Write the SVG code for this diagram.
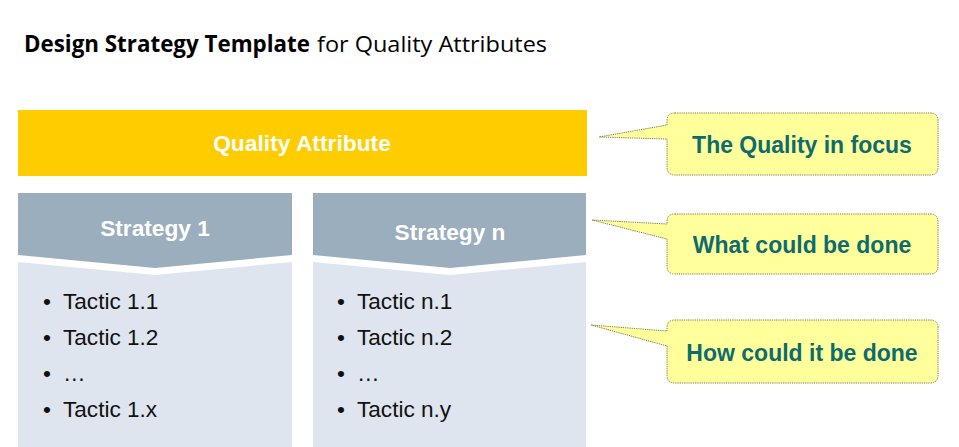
<svg xmlns="http://www.w3.org/2000/svg" width="959" height="447" viewBox="0 0 959 447">
<style>
.title{font-family:"Open Sans","Noto Sans",sans-serif;font-size:22.5px;fill:#000}
.qa{font-family:"Liberation Sans",Arial,sans-serif;font-size:22.8px;font-weight:bold;fill:#fff}
.hd{fill:#9BAEBD}
.bd{fill:#DFE5EE}
.st{font-family:"Liberation Sans",Arial,sans-serif;font-size:22.7px;font-weight:bold;fill:#fff}
.tx{font-family:"Liberation Sans",Arial,sans-serif;font-size:22.6px;fill:#111}
.co{fill:#FFFF9C;stroke:#7A7A4A;stroke-width:1;stroke-dasharray:1.2 1}
.ct{font-family:"Liberation Sans",Arial,sans-serif;font-size:23px;font-weight:bold;fill:#0E6B6E;text-anchor:middle}
</style>
<rect width="959" height="447" fill="#fff"/>
<g id="title">
<text class="title" x="24" y="52" font-weight="bold" textLength="286" lengthAdjust="spacingAndGlyphs">Design Strategy Template</text>
<text class="title" x="317" y="52" textLength="230" lengthAdjust="spacingAndGlyphs">for Quality Attributes</text>
</g>
<g id="quality-attribute">
<rect x="18" y="110" width="569" height="66" fill="#FFCC00"/>
<text class="qa" x="302" y="151" text-anchor="middle">Quality Attribute</text>
</g>
<g id="strategy-1">
<polygon class="hd" points="18,193 292,193 292,255 155,268 18,255"/>
<text class="st" x="155" y="236" text-anchor="middle">Strategy 1</text>
<polygon class="bd" points="18,262 155,275 292,262 292,447 18,447"/>
<text class="tx" x="43" y="309">•</text><text class="tx" x="63" y="309">Tactic 1.1</text>
<text class="tx" x="43" y="345">•</text><text class="tx" x="63" y="345">Tactic 1.2</text>
<text class="tx" x="43" y="381">•</text><text class="tx" x="63" y="381">…</text>
<text class="tx" x="43" y="417">•</text><text class="tx" x="63" y="417">Tactic 1.x</text>
</g>
<g id="strategy-n">
<polygon class="hd" points="313,193 586,193 586,255 450,268 313,255"/>
<text class="st" x="450" y="240" text-anchor="middle">Strategy n</text>
<polygon class="bd" points="313,262 450,275 586,262 586,447 313,447"/>
<text class="tx" x="337" y="309">•</text><text class="tx" x="357" y="309">Tactic n.1</text>
<text class="tx" x="337" y="345">•</text><text class="tx" x="357" y="345">Tactic n.2</text>
<text class="tx" x="337" y="381">•</text><text class="tx" x="357" y="381">…</text>
<text class="tx" x="337" y="417">•</text><text class="tx" x="357" y="417">Tactic n.y</text>
</g>
<g id="connectors">
<g id="callout-1">
<path class="co" d="M675,113 H930 Q938,113 938,121 V167 Q938,175 930,175 H675 Q667,175 667,167 V139 L599,137 L667,125 V121 Q667,113 675,113 Z"/>
<text class="ct" x="802" y="153">The Quality in focus</text>
</g>
<g id="callout-2">
<path class="co" d="M675,214 H930 Q938,214 938,222 V266 Q938,274 930,274 H675 Q667,274 667,266 V239 L592,220 L667,224 V222 Q667,214 675,214 Z"/>
<text class="ct" x="802" y="253">What could be done</text>
</g>
<g id="callout-3">
<path class="co" d="M675,320 H930 Q938,320 938,328 V375 Q938,383 930,383 H675 Q667,383 667,375 V346 L591,325 L667,331 V328 Q667,320 675,320 Z"/>
<text class="ct" x="802" y="361">How could it be done</text>
</g>
</g>
</svg>
